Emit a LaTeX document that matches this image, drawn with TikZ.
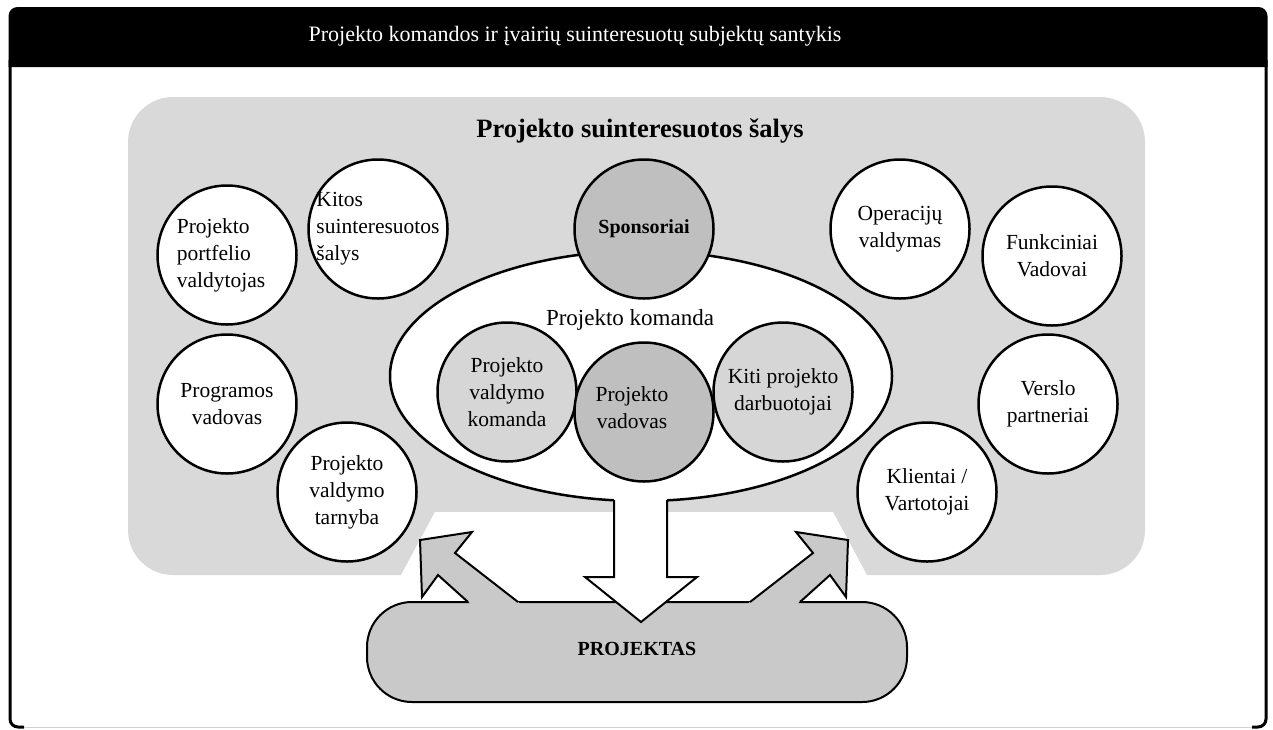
\documentclass[tikz,border=0pt]{standalone}
\usepackage{fontspec}
\setmainfont{Liberation Serif}
\usetikzlibrary{shapes.geometric}

\definecolor{bggray}{gray}{0.85}
\definecolor{pillgray}{gray}{0.79}
\definecolor{leadgray}{gray}{0.75}
\definecolor{teamgray}{gray}{0.84}

\newcommand{\circfont}{\fontsize{21.5}{27}\selectfont}

\tikzset{
  party/.style={circle, draw, line width=2.5pt, fill=white, minimum size=139pt,
    inner sep=0pt, align=center, font=\circfont},
  teamcirc/.style={party, fill=teamgray},
  leadcirc/.style={party, fill=leadgray},
  blockarrow/.style={line width=2pt, line join=miter}
}

\begin{document}
\begin{tikzpicture}[x=1pt,y=-1pt]
\useasboundingbox (0,0) rectangle (1273,729);
\fill[black] (8.5,67) [rounded corners=9] -- (8.5,7) -- (1267.5,7)
  [sharp corners] -- (1267.5,67) -- cycle;
\draw[line width=3pt, rounded corners=8] (10,60) -- (10,727) -- (24,727);
\draw[line width=3pt, rounded corners=8] (1266,60) -- (1266,727) -- (1252,727);
\draw[gray!35, line width=1pt] (24,727) -- (1252,727);
\node[text=white, font=\fontsize{22}{26}\selectfont] (title) at (575,36)
  {Projekto komandos ir įvairių suinteresuotų subjektų santykis};

\fill[bggray, rounded corners=45] (128,97) rectangle (1145,575);
\fill[white] (435,512) -- (833,512) -- (868,577) -- (400,577) -- cycle;
\node[font=\bfseries\fontsize{26.5}{30}\selectfont] (salys) at (640,131)
  {Projekto suinteresuotos šalys};

\node[draw, line width=2pt, fill=pillgray, rounded corners=45, minimum width=540pt,
  minimum height=100pt, font=\bfseries\fontsize{20}{24}\selectfont] (projektas)
  at (637,652) {\raisebox{7pt}{PROJEKTAS}};

\fill[pillgray] (472,605) -- (438,575) -- (422,597) -- (420,540) -- (472,532)
  -- (455,553) -- (522,605) -- cycle;
\draw[blockarrow] (468,602) -- (438,575) -- (422,597) -- (420,540) -- (472,532)
  -- (455,553) -- (518,602);
\fill[pillgray] (796,605) -- (830,575) -- (846,597) -- (848,540) -- (796,532)
  -- (813,553) -- (746,605) -- cycle;
\draw[blockarrow] (800,602) -- (830,575) -- (846,597) -- (848,540) -- (796,532)
  -- (813,553) -- (750,602);

\node[ellipse, draw, line width=2.5pt, fill=white, minimum width=502pt,
  minimum height=250pt] (komanda) at (641,376) {};
\fill[white] (614,490) -- (614,577) -- (585,577) -- (641,622) -- (697,577)
  -- (667,577) -- (667,490) -- cycle;
\draw[blockarrow] (614,500) -- (614,577) -- (585,577) -- (641,622) -- (697,577)
  -- (667,577) -- (667,500);
\node[font=\fontsize{23}{27}\selectfont] (komandatxt) at (630,320) {Projekto komanda};

\node[teamcirc] (pvkomanda) at (507,392) {Projekto\\valdymo\\komanda};
\node[teamcirc] (kiti) at (783,392) {Kiti projekto\\darbuotojai};
\node[leadcirc] (vadovas) at (644,412) {};
\node[font=\circfont, align=center] (vadovastxt)
  at ([xshift=-12pt,yshift=4pt]vadovas.center) {Projekto\\vadovas};
\node[leadcirc, font=\bfseries\fontsize{20}{24}\selectfont] (sponsor) at (644,229)
  {Sponsoriai};

\node[party] (portfelis) at (227,255) {};
\node[font=\circfont, align=left] (portfelistxt)
  at ([xshift=-6pt]portfelis.center) {Projekto\\portfelio\\valdytojas};
\node[party] (kitos) at (378,229) {};
\node[font=\circfont, align=left] (kitostxt) at (kitos.center)
  {Kitos\\suinteresuotos\\šalys};
\foreach \nm/\cx/\cy/\txt in {programos/227/404/{Programos\\vadovas},
    tarnyba/347/492/{Projekto\\valdymo\\tarnyba},
    operacijos/900/229/{Operacijų\\valdymas},
    funkciniai/1052/256/{Funkciniai\\Vadovai},
    verslo/1048/404/{Verslo\\partneriai},
    klientai/927/492/{Klientai /\\Vartotojai}}
  \node[party] (\nm) at (\cx,\cy) {\txt};
\end{tikzpicture}
\end{document}
